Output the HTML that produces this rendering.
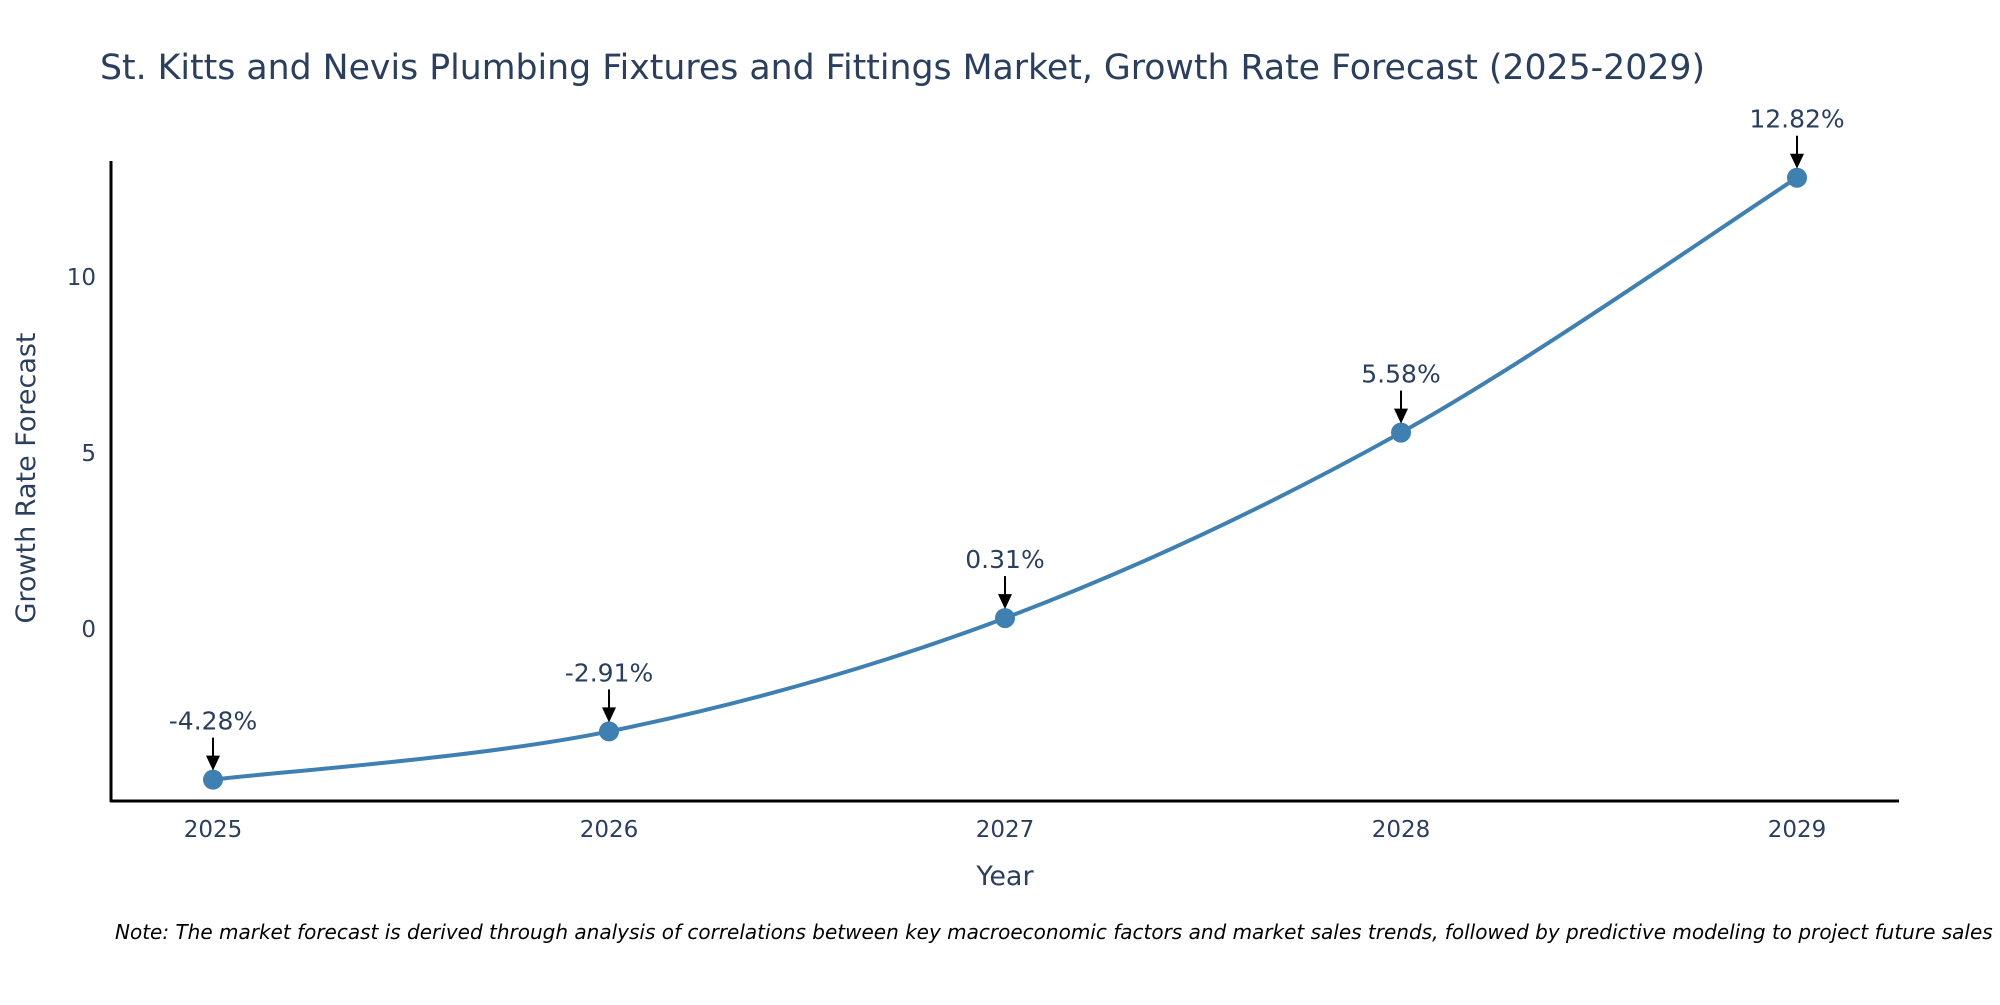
<!DOCTYPE html>
<html><head><meta charset="utf-8"><style>
body{margin:0;background:#fff;}
svg text{font-family:"DejaVu Sans","Liberation Sans",sans-serif;fill:#2a3f5f;}
</style></head><body>
<svg id="chart" width="2000" height="1000" xmlns="http://www.w3.org/2000/svg">
<text x="100" y="79" font-size="34.7">St. Kitts and Nevis Plumbing Fixtures and Fittings Market, Growth Rate Forecast (2025-2029)</text>
<g id="plot"></g>
<line x1="111" y1="161" x2="111" y2="802" stroke="#000" stroke-width="3"/>
<line x1="110" y1="801" x2="1899" y2="801" stroke="#000" stroke-width="3"/>
<text x="1005" y="885" font-size="27" text-anchor="middle">Year</text>
<text transform="translate(35,478) rotate(-90)" font-size="27" text-anchor="middle">Growth Rate Forecast</text>
<text x="115" y="939" font-size="20" font-style="italic" style="fill:#000">Note: The market forecast is derived through analysis of correlations between key macroeconomic factors and market sales trends, followed by predictive modeling to project future sales</text>
</svg>
<script>
const years = ["2025","2026","2027","2028","2029"];
const growth = [-4.28, -2.91, 0.31, 5.58, 12.82];
const yTicks = [0, 5, 10];
const labels = ["-4.28%","-2.91%","0.31%","5.58%","12.82%"];

const NS="http://www.w3.org/2000/svg";
const g=document.getElementById('plot');
function xPos(i){return 213+i*396;}
function yPos(v){return 629 - v*35.2;}
function mk(tag,attrs){const e=document.createElementNS(NS,tag);for(const k in attrs)e.setAttribute(k,attrs[k]);g.appendChild(e);return e;}

yTicks.forEach(t=>{
  const e=mk('text',{x:96,y:yPos(t)+8,'font-size':23,'text-anchor':'end'});
  
  
  e.textContent=t;
});
years.forEach((yr,i)=>{
  const e=mk('text',{x:xPos(i),y:837,'font-size':23,'text-anchor':'middle'});
  
  
  e.textContent=yr;
});
const pts=growth.map((v,i)=>[xPos(i),yPos(v)]);
let d=`M${pts[0][0]},${pts[0][1]}`;
for(let i=0;i<pts.length-1;i++){
  const p0=pts[Math.max(0,i-1)],p1=pts[i],p2=pts[i+1],p3=pts[Math.min(pts.length-1,i+2)];
  const t=6;
  const c1=[p1[0]+(p2[0]-p0[0])/t,p1[1]+(p2[1]-p0[1])/t];
  const c2=[p2[0]-(p3[0]-p1[0])/t,p2[1]-(p3[1]-p1[1])/t];
  d+=` C${c1[0]},${c1[1]} ${c2[0]},${c2[1]} ${p2[0]},${p2[1]}`;
}
const line=mk('path',{d:d,fill:'none',stroke:'#3f80b2','stroke-width':4});


pts.forEach((p,i)=>{
  const c=mk('circle',{cx:p[0],cy:p[1],r:10,fill:'#3f80b2'});
  
  
  const a=mk('line',{x1:p[0],y1:p[1]-42,x2:p[0],y2:p[1]-22,stroke:'#000','stroke-width':2});
  
  
  const h=mk('polygon',{points:`${p[0]-7},${p[1]-24} ${p[0]+7},${p[1]-24} ${p[0]},${p[1]-9}`,fill:'#000'});
  
  
  const t=mk('text',{x:p[0],y:p[1]-50,'font-size':25,'text-anchor':'middle'});
  
  
  t.textContent=labels[i];
});
</script>
</body></html>
